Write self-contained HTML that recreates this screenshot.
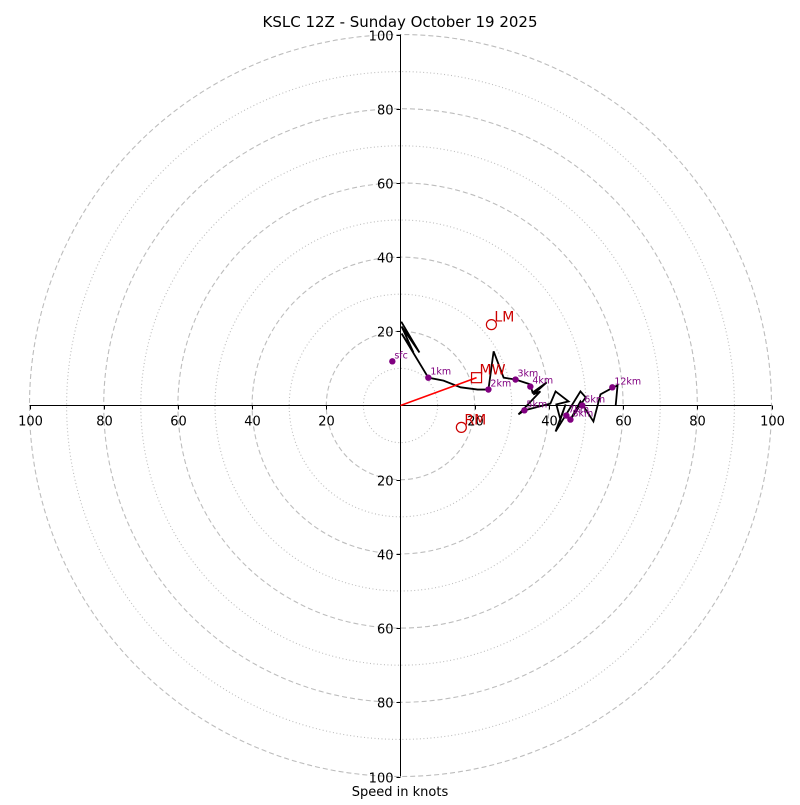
<!DOCTYPE html>
<html><head><meta charset="utf-8"><style>
body{margin:0;background:#fff}
svg text{font-family:"DejaVu Sans","Liberation Sans",sans-serif}
</style></head><body>
<svg id="chart" width="800" height="800" viewBox="0 0 800 800" xmlns="http://www.w3.org/2000/svg">
<text x="400" y="27" font-size="15" text-anchor="middle">KSLC 12Z - Sunday October 19 2025</text>
<g id="grid"></g>
<g id="axes"></g>
<g id="trace"></g>
<text x="400" y="796" font-size="13" text-anchor="middle">Speed in knots</text>
</svg>
<script>
const ringValues=[10,20,30,40,50,60,70,80,90,100];
const tickLabels=[20,40,60,80,100];
const traceU=[0.2,5.1,0.3,3.5,0.3,7.5,11.6,16.2,20.8,23.7,25.1,27.8,31,35,35.6,39.4,35.8,37.7,31.8,33.4,40.4,41.8,45.3,42,43.1,44.5,41.8,48.5,49.9,45.8,48.5,52,53.9,57.4,58.5,58];
const traceV=[22.6,14.3,21.3,14.3,19.4,7.5,6.7,4.9,4.3,4.3,14.6,7.5,7,5.7,3.5,6.2,3,3.8,-2.4,-1.3,0.5,3.8,1.1,0.3,-3.8,0.3,-7,3.8,2.2,-3.8,1.1,-4.3,3,4.9,5.4,0];
const markerLabels=["sfc","1km","2km","3km","4km","5km","6km","7km","8km","12km"];
const markerU=[-2.2,7.5,23.7,31,35,33.4,49,44.7,45.8,57.1];
const markerV=[11.9,7.5,4.3,7,5.1,-1.3,0,-2.7,-3.8,4.9];
const stormNames=["LM","MW","RM"];
const stormU=[24.5,20.5,16.4];
const stormV=[21.8,7.5,-5.9];

const CX=400.5,CY=405.5,S=3.71;
const sx=u=>CX+u*S, sy=v=>CY-v*S;
const NS="http://www.w3.org/2000/svg";
function mk(p,t,a){const e=document.createElementNS(NS,t);for(const k in a)e.setAttribute(k,a[k]);p.appendChild(e);return e;}
const grid=document.getElementById('grid'),axes=document.getElementById('axes'),tr=document.getElementById('trace');
ringValues.forEach(r=>{
 const c=mk(grid,'circle',{cx:CX,cy:CY,r:r*S,fill:'none',stroke:'#bdbdbd','stroke-width':1.1,'stroke-dasharray':r%20===0?'5,3':'1,2.5'});
 
 
});
mk(axes,'line',{x1:sx(-100),y1:CY,x2:sx(100),y2:CY,stroke:'#000','stroke-width':1});
mk(axes,'line',{x1:CX,y1:sy(100),x2:CX,y2:sy(-100),stroke:'#000','stroke-width':1});
tickLabels.forEach(t=>{
 [-1,1].forEach(sg=>{
  const x=Math.round(sx(sg*t))+0.5;
  mk(axes,'line',{x1:x,y1:CY,x2:x,y2:CY+4,stroke:'#000'});
  const tx=mk(axes,'text',{x:x,y:CY+20,'font-size':13,'text-anchor':'middle'});tx.textContent=t;
  
  
  const y=Math.round(sy(sg*t))+0.5;
  mk(axes,'line',{x1:CX-4,y1:y,x2:CX,y2:y,stroke:'#000'});
  const ty=mk(axes,'text',{x:CX-7,y:y+5,'font-size':13,'text-anchor':'end'});ty.textContent=t;
  
  
 });
});
const pts=traceU.map((u,i)=>sx(u)+','+sy(traceV[i])).join(' ');
const pl=mk(tr,'polyline',{points:pts,fill:'none',stroke:'#000','stroke-width':1.8,'stroke-linejoin':'miter'});


markerLabels.forEach((l,i)=>{
 const c=mk(tr,'circle',{cx:sx(markerU[i]),cy:sy(markerV[i]),r:3.2,fill:'purple'});
 
 
 const t=mk(tr,'text',{x:sx(markerU[i])+2,y:sy(markerV[i])-3,'font-size':9.5,fill:'purple'});t.textContent=l;
 
 
});
const mw=1;
const ar=mk(tr,'line',{x1:CX,y1:CY,x2:sx(stormU[mw]),y2:sy(stormV[mw]),stroke:'red','stroke-width':1.6});


stormNames.forEach((n,i)=>{
 const x=sx(stormU[i]),y=sy(stormV[i]);
 let m;
 if(n==='MW') m=mk(tr,'rect',{x:x-5,y:y-5,width:10,height:10,fill:'none',stroke:'#c00','stroke-width':1.2});
 else m=mk(tr,'circle',{cx:x,cy:y,r:5,fill:'none',stroke:'#c00','stroke-width':1.2});
 
 
 const t=mk(tr,'text',{x:x+3,y:y-3,'font-size':14,fill:'#c00'});t.textContent=n;
 
 
});
</script>
</body></html>
